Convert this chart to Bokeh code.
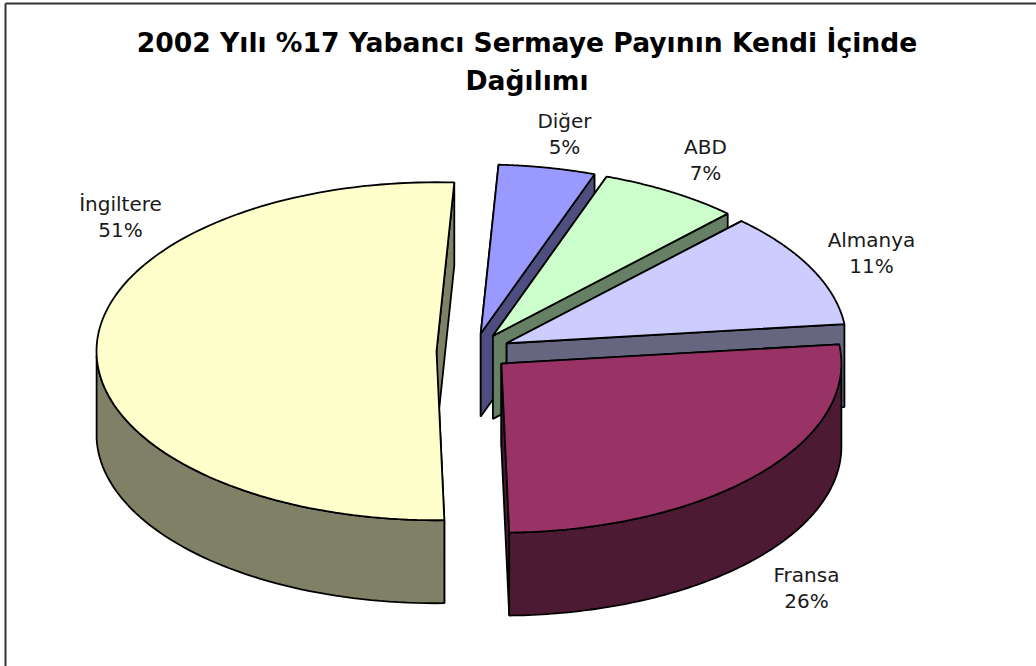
import numpy as np
from bokeh.plotting import figure
from bokeh.models import Range1d
from bokeh.core.properties import value
from bokeh.embed import file_html
from bokeh.resources import INLINE

TITLE = ["2002 Yılı %17 Yabancı Sermaye Payının Kendi İçinde", "Dağılımı"]
categories = ["Diğer", "ABD", "Almanya", "Fransa", "İngiltere"]
shares = [4.6, 6.7, 11.05, 26.45, 51.2]
top_colors = ["#9999ff", "#ccffcc", "#ccccff", "#993366", "#ffffcc"]
side_colors = ["#4d4d80", "#668066", "#666680", "#4d1a33", "#808066"]

W, H = 1036, 666
A, B, DEPTH = 340.0, 169.0, 83.0
CX, CY, EXPLODE = 473.0, 351.0, 37.0
START = 3.0
label_pos = [(564, 133), (705, 159), (871, 252), (806, 587), (120, 216)]

p = figure(width=W, height=H, x_range=Range1d(0, W), y_range=Range1d(H, 0),
           output_backend="svg", toolbar_location=None, min_border=0,
           outline_line_color=None, border_fill_color="white", background_fill_color="white")
p.axis.visible = False
p.grid.visible = False
p.margin = (0, 0, 0, 0)

p.line([5, 5], [H, 3], line_color="#333333", line_width=2)
p.line([5, W], [3, 3], line_color="#333333", line_width=2)

total = sum(shares)
sweep = np.cumsum([0] + shares) / total * 360.0 + START
slices = []
for i, s in enumerate(shares):
    a0, a1 = sweep[i], sweep[i + 1]
    mid = np.radians((a0 + a1) / 2)
    cx = CX + EXPLODE * np.sin(mid)
    cy = CY - EXPLODE * B / A * np.cos(mid)
    t = np.radians(np.linspace(a0, a1, 120))
    slices.append((i, a0, a1, cx, cy, cx + A * np.sin(t), cy - B * np.cos(t)))

def draw_slice(i, a0, a1, cx, cy, ex, ey):
    for k in (0, -1):
        xs = [cx, ex[k], ex[k], cx]
        ys = [cy, ey[k], ey[k] + DEPTH, cy + DEPTH]
        p.patch(xs, ys, fill_color=side_colors[i], line_color="black", line_width=1.8)
    t = np.radians(np.linspace(a0, a1, 120))
    front = np.cos(t) < 0
    if front.any():
        wx, wy = ex[front], ey[front]
        p.patch(np.r_[wx, wx[::-1]], np.r_[wy, wy[::-1] + DEPTH],
                fill_color=side_colors[i], line_color="black", line_width=1.8)
    p.patch(np.r_[cx, ex], np.r_[cy, ey], fill_color=top_colors[i],
            line_color="black", line_width=1.8)

for sl in slices:
    draw_slice(*sl)

font = value("DejaVu Sans")
p.text([526.5, 526.5], [42, 80], text=[TITLE[0], TITLE[1]], text_font=font, text_font_size="26.6px",
       text_font_style="bold", text_align="center", text_baseline="middle", text_color="black")
for (lx, ly), c, s in zip(label_pos, categories, shares):
    p.text([lx, lx], [ly - 13, ly + 13], text=[c, f"{round(s)}%"], text_font=font, text_font_size="20px",
           text_align="center", text_baseline="middle", text_color="#1a1a1a")

open("out.html", "w").write(file_html(p, INLINE))
